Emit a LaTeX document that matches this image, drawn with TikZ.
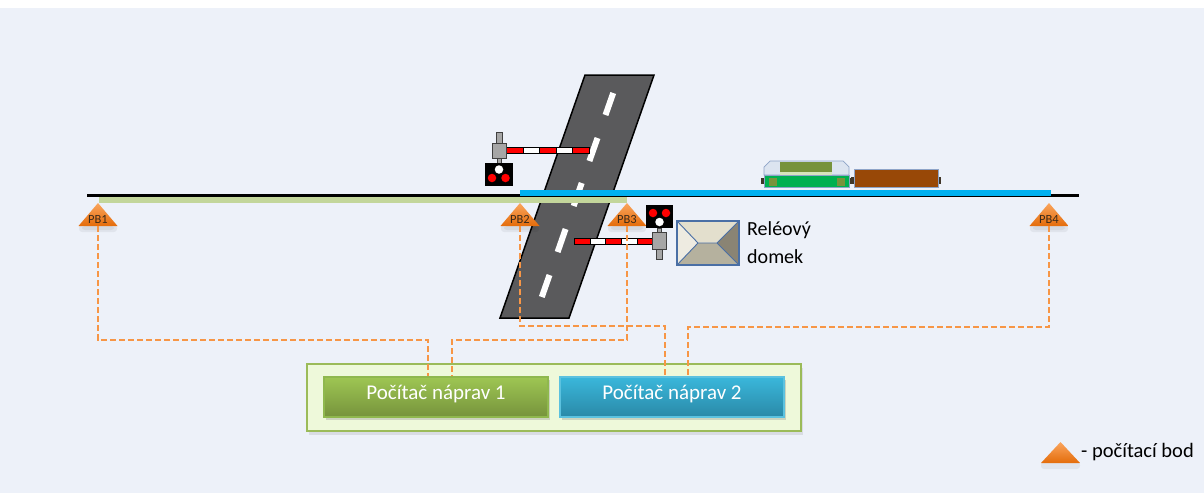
\documentclass[tikz,border=0pt]{standalone}
\usepackage{fontspec}
\setmainfont{Carlito}
\usetikzlibrary{shadows}

\definecolor{bg}{HTML}{EDF1F9}
\definecolor{roadgray}{HTML}{5A5A5C}
\definecolor{trackgreen}{HTML}{C3D69B}
\definecolor{trackblue}{HTML}{00B0F0}
\definecolor{pbtop}{HTML}{FAA55E}
\definecolor{pbbot}{HTML}{E46C0A}
\definecolor{pbtext}{HTML}{3A2A1A}
\definecolor{wire}{HTML}{F79646}
\definecolor{outerfill}{HTML}{EEF9DA}
\definecolor{outerdraw}{HTML}{9BBB59}
\definecolor{greentop}{HTML}{9EC653}
\definecolor{greenbot}{HTML}{76933C}
\definecolor{greenedge}{HTML}{8FB84E}
\definecolor{bluetop}{HTML}{3AB7DB}
\definecolor{bluebot}{HTML}{2A89A7}
\definecolor{blueedge}{HTML}{5CC2DF}
\definecolor{signgray}{HTML}{A6A6A6}
\definecolor{houseedge}{HTML}{4A6FA5}
\definecolor{houseleft}{HTML}{EEEBE1}
\definecolor{housetop}{HTML}{E3DFCD}
\definecolor{houseright}{HTML}{8A8474}
\definecolor{housebot}{HTML}{B5B19E}
\definecolor{cabgray}{HTML}{DCE4F0}
\definecolor{cabedge}{HTML}{8EA4C8}
\definecolor{olive}{HTML}{77933C}
\definecolor{olivelight}{HTML}{D7E4BD}
\definecolor{locogreen}{HTML}{00B050}
\definecolor{wagonbrown}{HTML}{984807}
\definecolor{wheelgray}{HTML}{A6A6A6}
\definecolor{bufferdark}{HTML}{403628}

% label text of a counting point, set low inside its triangle
\newcommand\pblabel[1]{\raisebox{-5pt}[7pt][0pt]{#1}}
% text of a counter box, lifted a little
\newcommand\pctext[1]{\raisebox{3pt}[15pt][5pt]{#1}}

\tikzset{
  pbmark/.style={rectangle, inner sep=0pt, minimum width=39pt, minimum height=23pt,
    font=\fontsize{12.5}{14}\selectfont, text=pbtext,
    path picture={\shade[top color=pbtop, bottom color=pbbot]
      (path picture bounding box.south west) -- (path picture bounding box.north)
      -- (path picture bounding box.south east) -- cycle;}},
  pbshadow/.style={fill=black, opacity=0.05, rounded corners=3pt},
  conn/.style={draw=wire, line width=2pt, dash pattern=on 6pt off 3pt},
  counter/.style={rectangle, minimum width=224pt, minimum height=40pt, inner sep=0pt,
    line width=1.5pt, text=white, font=\fontsize{21}{24}\selectfont,
    drop shadow={opacity=0.3, shadow xshift=1.5pt, shadow yshift=-3pt}},
  armred/.style={fill=red, draw=black, line width=0.8pt},
  armwhite/.style={fill=white, draw=black, line width=0.8pt},
  gearbox/.style={fill=signgray, draw=black!75, line width=0.8pt},
  lamp/.style={circle, inner sep=0pt, minimum size=8.5pt},
  wheel/.style={fill=wheelgray, draw=black!60, line width=0.6pt},
}

\begin{document}
\begin{tikzpicture}[x=1pt, y=-1pt]
\useasboundingbox (0,0) rectangle (1204,499);
\fill[white] (0,0) rectangle (1204,499);
\fill[bg] (0,8) rectangle (1204,493);

% ---------- road ----------
\draw[fill=roadgray, line width=1.5pt, line join=miter]
  (585,75) -- (654,75) -- (569,318) -- (500,318) -- cycle;
\foreach \ya/\xa/\yb/\xb in {93/613.2/115/605.5, 138/597.5/161/589.4,
    183/581.7/206/573.7, 229/565.6/252/557.6, 275/549.5/297/541.8}
  \draw[white, line width=6pt] (\xa,\ya) -- (\xb,\yb);

% ---------- track ----------
\fill[trackgreen] (99,197) rectangle (627,202.5);
\draw[black, line width=2.5pt] (87,195.5) -- (1079,195.5);
\fill[trackblue] (520,190) rectangle (1051,195.5);

% ---------- barrier and signal, left ----------
\fill[gearbox] (496,132) rectangle (502,143);
\fill[gearbox] (497,158) rectangle (501,163);
\foreach \xa/\xb/\st in {506/523/armred, 523/539/armwhite, 539/556/armred,
    556/572/armwhite, 572/589/armred}
  \path[\st] (\xa,147) rectangle (\xb,153);
\path[gearbox] (492,143) rectangle (506,158);
\fill[black] (485,163) rectangle (513,186);
\node[lamp, fill=white] (sigAw) at (499,169.5) {};
\node[lamp, fill=red] (sigAr1) at (492,178) {};
\node[lamp, fill=red] (sigAr2) at (505.5,178) {};

% ---------- barrier and signal, right ----------
\fill[gearbox] (657,228) rectangle (661,232);
\path[gearbox] (656,249) rectangle (662,259);
\foreach \xa/\xb/\st in {574/590/armred, 590/605/armwhite, 605/621/armred,
    621/637/armwhite, 637/652/armred}
  \path[\st] (\xa,238) rectangle (\xb,244);
\path[gearbox] (652,232) rectangle (666,249);
\fill[black] (646,205) rectangle (673,228);
\node[lamp, fill=red] (sigBr1) at (653,213) {};
\node[lamp, fill=red] (sigBr2) at (666,213) {};
\node[lamp, fill=white] (sigBw) at (659.5,222) {};

% ---------- relay house ----------
\fill[houseleft] (677,221) -- (698,243) -- (677,265) -- cycle;
\fill[housetop] (677,221) -- (739,221) -- (717,243) -- (698,243) -- cycle;
\fill[houseright] (739,221) -- (739,265) -- (717,243) -- cycle;
\fill[housebot] (677,265) -- (698,243) -- (717,243) -- (739,265) -- cycle;
\draw[houseedge, line width=0.9pt]
  (677,221) -- (698,243) -- (717,243) -- (739,221)
  (677,265) -- (698,243) (717,243) -- (739,265);
\draw[houseedge, line width=1.1pt] (677,221) rectangle (739,265);
\node[anchor=base west, inner sep=0pt, font=\fontsize{20}{24}\selectfont] (relay1) at (747,235) {Reléový};
\node[anchor=base west, inner sep=0pt, font=\fontsize{20}{24}\selectfont] (relay2) at (747,263) {domek};

% ---------- train ----------
% locomotive
\filldraw[fill=cabgray, draw=cabedge, line width=0.7pt]
  (764,175) -- (764,167) -- (770,161) -- (843,161) -- (849,167) -- (849,175) -- cycle;
\fill[olive] (780,161.5) rectangle (832,172);
\fill[olivelight] (780,172) rectangle (832,175);
\foreach \x in {776,787.5,822,837}
  \filldraw[wheel] (\x-5,187) arc[start angle=180, end angle=360, radius=5];
\fill[bufferdark] (761,178) rectangle (764,184);
\fill[bufferdark] (849,178) rectangle (852,184);
\filldraw[fill=locogreen, draw=cabedge, line width=0.7pt] (764,175) rectangle (849,187);
\fill[olive] (769,177.5) rectangle (777,186);
\fill[olive] (837,177.5) rectangle (845,186);
% wagon
\foreach \x in {864,877,911,925.5}
  \filldraw[wheel] (\x-5,187) arc[start angle=180, end angle=360, radius=5];
\fill[bufferdark] (851,177) rectangle (854,184);
\fill[bufferdark] (938,177) rectangle (941,184);
\filldraw[fill=wagonbrown, draw=cabedge, line width=0.7pt] (854,169) rectangle (938,187);

% ---------- counting points ----------
\foreach \x in {98,520,627,1049}{
  \fill[pbshadow] (\x-19,225) rectangle (\x+19,232);
  \fill[pbshadow] (\x-16,226) rectangle (\x+16,230);
}
\node[pbmark] (PB1) at (98,214.5) {\pblabel{PB1}};
\node[pbmark] (PB2) at (520,214.5) {\pblabel{PB2}};
\node[pbmark] (PB3) at (627,214.5) {\pblabel{PB3}};
\node[pbmark] (PB4) at (1049,214.5) {\pblabel{PB4}};

% ---------- axle counters ----------
\node[rectangle, minimum width=494pt, minimum height=67pt, inner sep=0pt,
      fill=outerfill, draw=outerdraw, line width=2pt,
      drop shadow={opacity=0.18, shadow xshift=2pt, shadow yshift=-4pt}]
  (counters) at (554,397.5) {};

\coordinate (j1) at (428,340);
\coordinate (j2) at (665,326);
\coordinate (j3) at (452,340);
\coordinate (j4) at (688,327);

\node[counter, top color=greentop, bottom color=greenbot, draw=greenedge]
  (pc1) at (436,397) {\pctext{Počítač náprav 1}};
\node[counter, top color=bluetop, bottom color=bluebot, draw=blueedge]
  (pc2) at (672,397) {\pctext{Počítač náprav 2}};

\draw[conn] (PB1.south) |- (j1) -- (j1 |- pc1.north);
\draw[conn] (PB3.south) |- (j3) -- (j3 |- pc1.north);
\draw[conn] (PB2.south) |- (j2) -- (j2 |- pc2.north);
\draw[conn] (PB4.south) |- (j4) -- (j4 |- pc2.north);

% ---------- legend ----------
\fill[pbshadow] (1041,462) rectangle (1080,469);
\node[pbmark, minimum height=21pt] (legendmark) at (1060.5,452.5) {};
\node[anchor=base west, inner sep=0pt, font=\fontsize{20.5}{24}\selectfont]
  (legendtext) at (1081,457) {- počítací bod};
\end{tikzpicture}
\end{document}
